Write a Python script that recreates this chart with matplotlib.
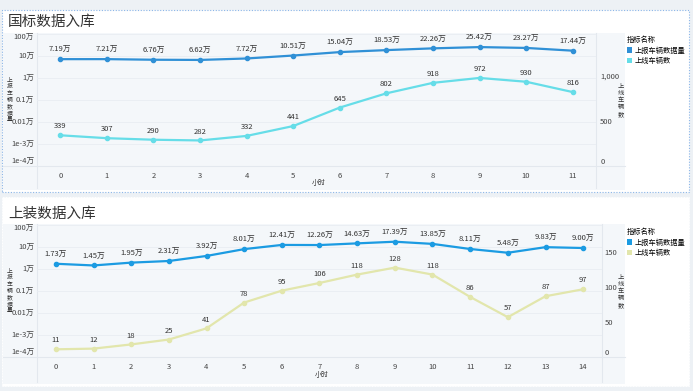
import matplotlib
matplotlib.use("Agg")
import matplotlib.pyplot as plt
from matplotlib.patches import Rectangle, Patch
from matplotlib.lines import Line2D
from matplotlib.ticker import FixedLocator, NullLocator

plt.rcParams["font.family"] = ["Noto Sans CJK SC", "DejaVu Sans"]

W, H = 693, 391

# 国标数据入库
gb_hours = list(range(12))
gb_report_wan = [7.19, 7.21, 6.76, 6.62, 7.72, 10.51, 15.04, 18.53, 22.26, 25.42, 23.27, 17.44]
gb_online = [339, 307, 290, 282, 332, 441, 645, 802, 918, 972, 930, 816]

# 上装数据入库
sz_hours = list(range(15))
sz_report_wan = [1.73, 1.45, 1.95, 2.31, 3.92, 8.01, 12.41, 12.26, 14.63, 17.39, 13.85, 8.11, 5.48, 9.83, 9.00]
sz_online = [11, 12, 18, 25, 41, 78, 95, 106, 118, 128, 118, 86, 57, 87, 97]

left_ticks = [1e-4, 1e-3, 0.01, 0.1, 1, 10, 100]
left_labels = ["1e-4万", "1e-3万", "0.01万", "0.1万", "1万", "10万", "100万"]

PAGE = "#edf1f5"
PLOT_BG = "#f4f7fa"
LINE_GRAY = "#e3e8ee"
TXT = "#333333"


def fx(x):
    return x / W


def fy(y):
    return 1 - y / H


def rect(x0, y0, x1, y1):
    return [fx(x0), fy(y1), fx(x1) - fx(x0), fy(y0) - fy(y1)]


def vertical_text(x, y_mid, text, step, size):
    # stack the characters top to bottom, one per line
    top = y_mid - step * (len(text) - 1) / 2
    for i, ch in enumerate(text):
        fig.text(fx(x), fy(top + i * step), ch, fontsize=size, color=TXT,
                 ha="center", va="center")


fig = plt.figure(figsize=(W / 100, H / 100), dpi=100, facecolor=PAGE)


def panel(title, hours, report, online, c1, c2, r_max, r_ticks, r_labels,
          card, title_y, bg, box, xlabel_y, leg_y, rtick_x, dotted):
    cx0, cy0, cx1, cy1 = card
    fig.add_artist(Rectangle((fx(cx0), fy(cy1)), fx(cx1) - fx(cx0), fy(cy0) - fy(cy1),
                             transform=fig.transFigure, facecolor="white",
                             edgecolor="#8cb6e8" if dotted else "white",
                             linestyle=(0, (1, 1.5)), linewidth=0.8, zorder=-3))
    bx0, by0, bx1, by1 = bg
    fig.add_artist(Rectangle((fx(bx0), fy(by1)), fx(bx1) - fx(bx0), fy(by0) - fy(by1),
                             transform=fig.transFigure, facecolor=PLOT_BG,
                             edgecolor="none", zorder=-2))
    fig.text(fx(8), fy(title_y), title, fontsize=10.5, color=TXT, va="center", ha="left")

    x0, y0, x1, y1 = box
    # frame lines (table-like)
    for xs, ys in [([x0, x0], [by0, by1 - 2]), ([x1, x1], [by0, by1 - 2]), ([bx0, bx1], [y1, y1])]:
        fig.add_artist(Line2D([fx(v) for v in xs], [fy(v) for v in ys],
                              color=LINE_GRAY, lw=0.8, zorder=-1))

    ax = fig.add_axes(rect(x0, y0, x1, y1))
    ax.patch.set_alpha(0)
    for s in ax.spines.values():
        s.set_visible(False)
    ax.set_yscale("log")
    ax.set_ylim(1e-4, 100)
    ax.set_xlim(-0.5, len(hours) - 0.5)
    ax.yaxis.set_major_locator(FixedLocator(left_ticks))
    ax.yaxis.set_minor_locator(NullLocator())
    ax.set_yticklabels(left_labels)
    ax.set_xticks(hours)
    ax.tick_params(length=0, labelsize=5.5, colors="#444444")
    ax.tick_params(axis="x", pad=4)
    ax.tick_params(axis="y", pad=2)
    ax.grid(axis="y", color="#e9edf2", lw=0.6)
    ax.set_axisbelow(True)
    ylabels = ax.get_yticklabels()
    ylabels[0].set_va("bottom")
    ylabels[-1].set_va("top")

    ax.plot(hours, report, color=c1, lw=1.6, marker="o", ms=3, zorder=3)
    for h, v in zip(hours, report):
        ax.annotate(f"{v:.2f}万", (h, v), xytext=(0, 3.5), textcoords="offset points",
                    ha="center", va="bottom", fontsize=5.5, color=TXT)

    ax2 = ax.twinx()
    for s in ax2.spines.values():
        s.set_visible(False)
    ax2.set_ylim(0, r_max)
    ax2.yaxis.set_major_locator(FixedLocator(r_ticks))
    ax2.set_yticklabels(r_labels)
    ax2.tick_params(length=0, labelsize=5.5, colors="#444444", pad=rtick_x - x1)
    ax2.get_yticklabels()[0].set_va("bottom")
    ax2.plot(hours, online, color=c2, lw=1.6, marker="o", ms=3, zorder=3)
    for h, v in zip(hours, online):
        ax2.annotate(f"{v}", (h, v), xytext=(0, 3.5), textcoords="offset points",
                     ha="center", va="bottom", fontsize=5.5, color=TXT)

    mid = (y0 + y1) / 2
    vertical_text(10, mid, "上报车辆数据量", 6.6, 4.2)
    vertical_text(621, mid, "上线车辆数", 7.0, 4.5)
    fig.text(fx((x0 + x1) / 2 + 2), fy(xlabel_y), "小时", fontsize=5, color=TXT,
             ha="center", va="center")

    handles = [Patch(facecolor=c1, edgecolor="none"), Patch(facecolor=c2, edgecolor="none")]
    fig.legend(handles, ["上报车辆数据量", "上线车辆数"], title="指标名称",
               loc="upper left", bbox_to_anchor=(fx(627), fy(leg_y)),
               frameon=False, fontsize=5.2, title_fontsize=5.2, alignment="left",
               handlelength=0.7, handleheight=0.7, handletextpad=0.4,
               labelspacing=0.35, borderaxespad=0, borderpad=0)


panel("国标数据入库", gb_hours, gb_report_wan, gb_online, "#3090d6", "#66dde8",
      1457, [0, 500, 1000], ["0", "500", "1,000"],
      card=(2, 10, 689, 192), title_y=22, bg=(3, 33, 625, 190),
      box=(37, 34, 596, 166), xlabel_y=183, leg_y=36, rtick_x=599, dotted=True)

panel("上装数据入库", sz_hours, sz_report_wan, sz_online, "#1b9be2", "#e2e6ac",
      189, [0, 50, 100, 150], ["0", "50", "100", "150"],
      card=(2, 197, 689, 386), title_y=214, bg=(3, 224, 625, 384),
      box=(37, 225, 602, 357), xlabel_y=375, leg_y=228, rtick_x=604, dotted=False)

fig.savefig("out.png", dpi=100, facecolor=PAGE)
